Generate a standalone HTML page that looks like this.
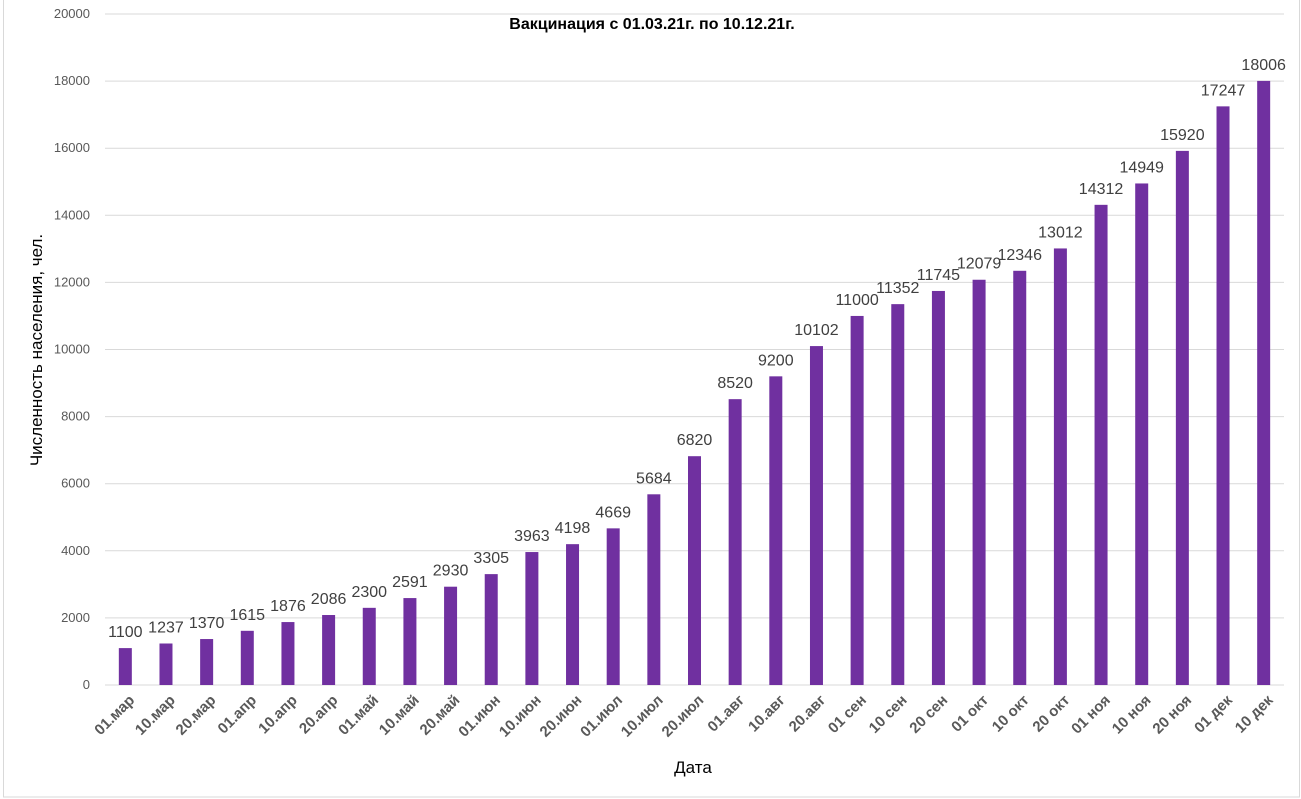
<!DOCTYPE html>
<html><head><meta charset="utf-8"><style>
body{margin:0;background:#fff;}
svg{display:block;font-family:"Liberation Sans",sans-serif;}
</style></head><body>
<svg id="chart" width="1301" height="799">
<rect x="3.5" y="-1" width="1296" height="798" fill="#fff" stroke="#d9d9d9"/>
<text x="652" y="29" text-anchor="middle" font-weight="bold" font-size="16">Вакцинация с 01.03.21г. по 10.12.21г.</text>
<g id="grid"></g><g id="bars"></g><g id="labels"></g><g id="xticks"></g><g id="yticks"></g>
<text x="693" y="773" text-anchor="middle" font-size="17">Дата</text>
<text transform="translate(42,350) rotate(-90)" text-anchor="middle" font-size="17">Численность населения, чел.</text>
</svg>
<script>
const categories=["01.мар","10.мар","20.мар","01.апр","10.апр","20.апр","01.май","10.май","20.май","01.июн","10.июн","20.июн","01.июл","10.июл","20.июл","01.авг","10.авг","20.авг","01 сен","10 сен","20 сен","01 окт","10 окт","20 окт","01 ноя","10 ноя","20 ноя","01 дек","10 дек"];
const values=[1100,1237,1370,1615,1876,2086,2300,2591,2930,3305,3963,4198,4669,5684,6820,8520,9200,10102,11000,11352,11745,12079,12346,13012,14312,14949,15920,17247,18006];
const yTicks=[0,2000,4000,6000,8000,10000,12000,14000,16000,18000,20000];
const NS="http://www.w3.org/2000/svg";
const L=105,R=1284,T=14,B=685,yMax=20000;
const n=categories.length,step=(R-L)/n;
const y=v=>B-(v/yMax)*(B-T);
const x=i=>L+step*(i+0.5);
function mk(tag,attrs,parent,txt){const e=document.createElementNS(NS,tag);for(const k in attrs)e.setAttribute(k,attrs[k]);if(txt!=null)e.textContent=txt;document.getElementById(parent).appendChild(e);return e;}
yTicks.forEach(t=>{
 const g=mk('line',{x1:L,x2:R,y1:y(t),y2:y(t),stroke:'#d9d9d9','stroke-width':1},'grid');
 
 
 const l=mk('text',{x:90,y:y(t)+4,'text-anchor':'end','font-size':13,fill:'#595959'},'yticks',t);
 
 
});
values.forEach((v,i)=>{
 const b=mk('rect',{x:x(i)-6.5,y:y(v),width:13,height:B-y(v),fill:'#7030A0'},'bars');
 
 
 const t=mk('text',{x:x(i),y:y(v)-11,'text-anchor':'middle','font-size':16,fill:'#404040'},'labels',v);
 
 
 const c=mk('text',{transform:`translate(${x(i)+10},${B+16}) rotate(-45)`,'text-anchor':'end','font-size':15,'font-weight':'bold',fill:'#595959'},'xticks',categories[i]);
 
 
});
</script>
</body></html>
